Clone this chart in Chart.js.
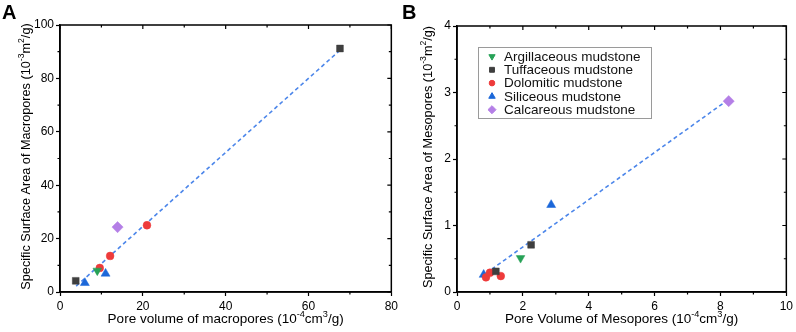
<!DOCTYPE html>
<html><head><meta charset="utf-8">
<script src="https://cdn.jsdelivr.net/npm/chart.js@4"></script>
<style>
body{margin:0;background:#fff;width:796px;height:332px;overflow:hidden;position:relative}
.w{position:absolute;top:0;height:332px}
</style></head><body>
<div class="w" style="left:0;width:401px"><canvas id="cA" width="401" height="332"></canvas></div>
<div class="w" style="left:398px;width:398px"><canvas id="cB" width="398" height="332"></canvas></div>
<script>
const lithologies = ['Argillaceous mudstone','Tuffaceous mudstone','Dolomitic mudstone','Siliceous mudstone','Calcareous mudstone'];

// Panel A: macropores
const macroArgX = [9.0],              macroArgY = [8.0];
const macroTufX = [3.8, 67.6],        macroTufY = [4.2, 91.2];
const macroDolX = [9.6, 12.1, 21.0],  macroDolY = [9.0, 13.5, 25.0];
const macroSilX = [6.0, 11.0],        macroSilY = [3.4, 6.9];
const macroCalX = [13.9],             macroCalY = [24.3];
const macroFitX = [3.9, 67.7],        macroFitY = [2.2, 90.7];
const macroXTicks = [0, 20, 40, 60, 80];
const macroYTicks = [0, 20, 40, 60, 80, 100];
const macroXTitle = [['Pore volume of macropores (10'], ['-4', 1], ['cm'], ['3', 1], ['/g)']];
const macroYTitle = [['Specific Surface Area of Macropores (10'], ['-3', 1], ['m'], ['2', 1], ['/g)']];

// Panel B: mesopores
const mesoArgX = [1.93],              mesoArgY = [0.51];
const mesoTufX = [1.18, 2.25],        mesoTufY = [0.31, 0.71];
const mesoDolX = [0.88, 1.0, 1.33],   mesoDolY = [0.22, 0.29, 0.24];
const mesoSilX = [0.81, 2.86],        mesoSilY = [0.26, 1.31];
const mesoCalX = [8.25],              mesoCalY = [2.87];
const mesoFitX = [0.88, 8.23],        mesoFitY = [0.28, 2.89];
const mesoXTicks = [0, 2, 4, 6, 8, 10];
const mesoYTicks = [0, 1, 2, 3, 4];
const mesoXTitle = [['Pore Volume of Mesopores (10'], ['-4', 1], ['cm'], ['3', 1], ['/g)']];
const mesoYTitle = [['Specific Surface Area of Mesopores (10'], ['-3', 1], ['m'], ['2', 1], ['/g)']];

const FONT = "'Liberation Sans', Arial, sans-serif";
Chart.defaults.font.family = FONT;
Chart.defaults.color = '#000';

const styles = [
  {pointStyle:'triangle', rotation:180, color:'#27a257', radius:5.0},
  {pointStyle:'rect', rotation:0, color:'#3f3f3f', radius:4.8},
  {pointStyle:'circle', rotation:0, color:'#ee3b3b', radius:3.9},
  {pointStyle:'triangle', rotation:0, color:'#1b67d9', radius:5.2},
  {pointStyle:'rectRot', rotation:0, color:'#b47fe6', radius:5.6}
];

function pts(xs, ys){ return xs.map((x,i)=>({x:x, y:ys[i]})); }

function buildDatasets(groups, fitX, fitY){
  const ds = groups.map((g,i)=>({
    label: lithologies[i],
    data: pts(g[0], g[1]),
    pointStyle: styles[i].pointStyle,
    rotation: styles[i].rotation,
    pointRadius: styles[i].radius,
    backgroundColor: styles[i].color,
    borderColor: styles[i].color,
    borderWidth: 0.5,
    order: 1
  }));
  ds.push({
    label: 'fit',
    data: pts(fitX, fitY),
    showLine: true,
    pointRadius: 0,
    borderColor: '#4c86ea',
    borderWidth: 1.6,
    borderDash: [4, 3],
    order: 10
  });
  return ds;
}

// draws text with superscripts, centred on (cx, cy), optionally rotated
function drawRich(ctx, segs, cx, cy, size, rotate){
  const supSize = size * 0.68;
  let total = 0;
  segs.forEach(s => { ctx.font = (s[1] ? supSize : size) + 'px ' + FONT; total += ctx.measureText(s[0]).width; });
  ctx.save();
  ctx.translate(cx, cy);
  if (rotate) ctx.rotate(-Math.PI / 2);
  ctx.textBaseline = 'alphabetic';
  ctx.textAlign = 'left';
  ctx.fillStyle = '#000';
  let x = -total / 2;
  const base = size * 0.36;
  segs.forEach(s => {
    ctx.font = (s[1] ? supSize : size) + 'px ' + FONT;
    ctx.fillText(s[0], x, s[1] ? base - size * 0.42 : base);
    x += ctx.measureText(s[0]).width;
  });
  ctx.restore();
}

const framePlugin = {
  id: 'frame',
  afterDraw(chart, args, opts){
    const ctx = chart.ctx;
    const {left, right, top, bottom} = chart.chartArea;
    const xs = chart.scales.x, ys = chart.scales.y;
    ctx.save();
    ctx.strokeStyle = '#000';
    ctx.lineWidth = 1.5;
    ctx.strokeRect(left, top, right - left, bottom - top);
    ctx.lineWidth = 1.2;
    const MAJ = 4, MIN = 2.5;
    const xv = xs.ticks.map(t=>t.value), yv = ys.ticks.map(t=>t.value);
    ctx.beginPath();
    xv.forEach((v,i)=>{
      const p = xs.getPixelForValue(v);
      ctx.moveTo(p, top); ctx.lineTo(p, top + MAJ);
      if (i < xv.length - 1){
        const m = xs.getPixelForValue((v + xv[i+1]) / 2);
        ctx.moveTo(m, top); ctx.lineTo(m, top + MIN);
        ctx.moveTo(m, bottom); ctx.lineTo(m, bottom + MIN);
      }
    });
    yv.forEach((v,i)=>{
      const p = ys.getPixelForValue(v);
      ctx.moveTo(right, p); ctx.lineTo(right - MAJ, p);
      if (i < yv.length - 1){
        const m = ys.getPixelForValue((v + yv[i+1]) / 2);
        ctx.moveTo(right, m); ctx.lineTo(right - MIN, m);
        ctx.moveTo(left, m); ctx.lineTo(left - MIN, m);
      }
    });
    ctx.stroke();
    // axis titles
    drawRich(ctx, opts.xTitle, (left + right) / 2, 318, 13.5, false);
    drawRich(ctx, opts.yTitle, opts.yTitleX, (top + bottom) / 2 - 2, 12.7, true);
    // panel label
    ctx.fillStyle = '#000';
    ctx.font = "bold 20px " + FONT;
    ctx.textBaseline = 'alphabetic';
    ctx.textAlign = 'left';
    ctx.fillText(opts.label, opts.lx, 19);
    // legend
    if (opts.legend){
      const L = opts.legend;
      ctx.strokeStyle = '#9a9a9a';
      ctx.lineWidth = 1;
      ctx.strokeRect(L.x + 0.5, L.y + 0.5, L.w, L.h);
      ctx.font = "13.5px " + FONT;
      ctx.textBaseline = 'middle';
      chart.data.datasets.slice(0, lithologies.length).forEach((d,i)=>{
        const cy = L.y + L.first + i * L.step;
        ctx.fillStyle = d.backgroundColor;
        ctx.strokeStyle = d.backgroundColor;
        Chart.helpers.drawPoint(ctx, {pointStyle: d.pointStyle, rotation: d.rotation, radius: d.pointRadius * 0.72, borderWidth: 0.5}, L.mx, cy);
        ctx.fillStyle = '#111';
        ctx.fillText(d.label, L.tx, cy + 0.5);
      });
    }
    ctx.restore();
  }
};

function makeChart(id, groups, fitX, fitY, xMax, yMax, xTicks, yTicks, pad, frameOpts){
  return new Chart(document.getElementById(id), {
    type: 'scatter',
    data: { datasets: buildDatasets(groups, fitX, fitY) },
    options: {
      responsive: false,
      animation: false,
      events: [],
      layout: { padding: {left: 0, right: pad.right, top: pad.top, bottom: 0} },
      plugins: { legend: {display:false}, tooltip: {enabled:false}, frame: frameOpts },
      scales: {
        x: {
          type: 'linear', min: 0, max: xMax,
          afterBuildTicks: s => { s.ticks = xTicks.map(v=>({value:v})); },
          afterFit: s => { s.height = 40; },
          grid: { display: true, drawOnChartArea: false, drawTicks: true, tickLength: 4, tickColor: '#000', tickWidth: 1.2 },
          border: { display: true, color: '#000', width: 1.5 },
          ticks: { font: {size: 12}, color: '#000', padding: 3, maxRotation: 0 },
          title: { display: false }
        },
        y: {
          type: 'linear', min: 0, max: yMax,
          afterBuildTicks: s => { s.ticks = yTicks.map(v=>({value:v})); },
          afterFit: s => { s.width = pad.left; },
          grid: { display: true, drawOnChartArea: false, drawTicks: true, tickLength: 4, tickColor: '#000', tickWidth: 1.2 },
          border: { display: true, color: '#000', width: 1.5 },
          ticks: { font: {size: 12}, color: '#000', padding: 2 },
          title: { display: false }
        }
      }
    },
    plugins: [framePlugin]
  });
}

makeChart('cA',
  [[macroArgX, macroArgY],[macroTufX, macroTufY],[macroDolX, macroDolY],[macroSilX, macroSilY],[macroCalX, macroCalY]],
  macroFitX, macroFitY, 80, 100, macroXTicks, macroYTicks,
  {left: 60, right: 0, top: 25},
  {label: 'A', lx: 2, xTitle: macroXTitle, yTitle: macroYTitle, yTitleX: 25});

makeChart('cB',
  [[mesoArgX, mesoArgY],[mesoTufX, mesoTufY],[mesoDolX, mesoDolY],[mesoSilX, mesoSilY],[mesoCalX, mesoCalY]],
  mesoFitX, mesoFitY, 10, 4, mesoXTicks, mesoYTicks,
  {left: 59, right: 9, top: 26},
  {label: 'B', lx: 4, xTitle: mesoXTitle, yTitle: mesoYTitle, yTitleX: 29,
   legend: {x: 80, y: 47, w: 173, h: 71, first: 9.5, step: 13.3, mx: 94, tx: 106}});
</script>
</body></html>
